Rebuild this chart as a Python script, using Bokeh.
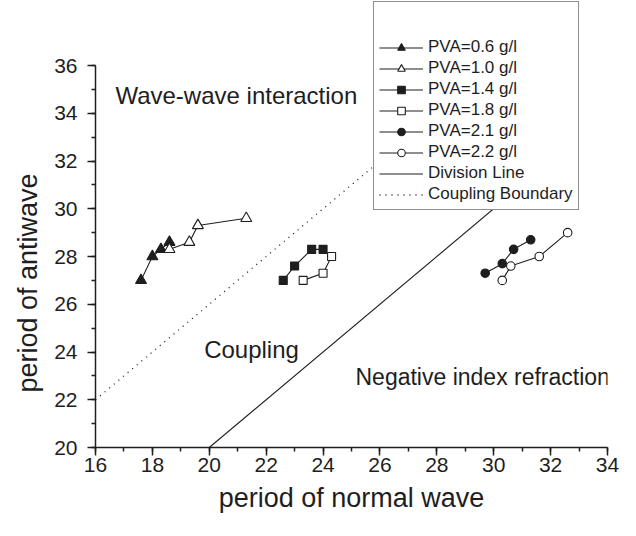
from bokeh.plotting import figure
from bokeh.models import Legend, LegendItem, Label, Range1d, SingleIntervalTicker, Title
from bokeh.embed import file_html
from bokeh.resources import INLINE

# ---- data ----
series_labels = ["PVA=0.6 g/l", "PVA=1.0 g/l", "PVA=1.4 g/l",
                 "PVA=1.8 g/l", "PVA=2.1 g/l", "PVA=2.2 g/l"]

normal_06 = [17.6, 18.0, 18.3, 18.6]
anti_06 = [27.0, 28.0, 28.3, 28.6]

normal_10 = [18.6, 19.3, 19.6, 21.3]
anti_10 = [28.3, 28.6, 29.3, 29.6]

normal_14 = [22.6, 23.0, 23.6, 24.0]
anti_14 = [27.0, 27.6, 28.3, 28.3]

normal_18 = [23.3, 24.0, 24.3]
anti_18 = [27.0, 27.3, 28.0]

normal_21 = [29.7, 30.3, 30.7, 31.3]
anti_21 = [27.3, 27.7, 28.3, 28.7]

normal_22 = [30.3, 30.6, 31.6, 32.6]
anti_22 = [27.0, 27.6, 28.0, 29.0]

division_x = [20, 32]
division_y = [20, 32]
boundary_x = [16, 26]
boundary_y = [22, 32]

x_min, x_max = 16, 34
y_min, y_max = 20, 36

INK = "#1e1e1e"
FONT = "Liberation Sans"

FRAME_H = 447          # frame spans the full height above the x axis
PX_PER_Y = 382 / 16.0  # 36 sits 65 px below the top

p = figure(width=620, height=520, output_backend="svg", toolbar_location=None,
           x_range=Range1d(x_min, x_max),
           y_range=Range1d(y_min, y_min + FRAME_H / PX_PER_Y),
           min_border_left=95, min_border_right=13,
           min_border_top=0, min_border_bottom=73)
p.outline_line_color = None
p.xgrid.visible = False
p.ygrid.visible = False

p.xaxis.ticker = SingleIntervalTicker(interval=2, num_minor_ticks=2)
p.yaxis.ticker = SingleIntervalTicker(interval=2, num_minor_ticks=2)
p.yaxis.bounds = (y_min, y_max)
p.xaxis.axis_label = "period of normal wave"
for ax in (p.xaxis[0], p.yaxis[0]):
    ax.axis_line_width = 1.5
    ax.axis_line_color = INK
    ax.major_tick_line_color = INK
    ax.minor_tick_line_color = INK
    ax.major_tick_line_width = 1.5
    ax.minor_tick_line_width = 1.5
    ax.major_tick_out = 8
    ax.major_tick_in = 0
    ax.minor_tick_out = 4
    ax.minor_tick_in = 0
    ax.major_label_text_font = FONT
    ax.major_label_text_font_size = "21px"
    ax.major_label_text_color = INK
    ax.axis_label_text_font = FONT
    ax.axis_label_text_font_size = "27px"
    ax.axis_label_text_font_style = "normal"
    ax.axis_label_text_color = INK
p.xaxis.major_label_standoff = 2
p.yaxis.major_label_standoff = 10
p.xaxis.axis_label_standoff = 8

p.add_layout(Title(text="period of antiwave", align="left", offset=55,
                   text_font=FONT, text_font_size="27px", text_font_style="normal",
                   text_color=INK, standoff=18), "left")

div_r = p.line(division_x, division_y, line_color=INK, line_width=1.1)
bnd_r = p.line(boundary_x, boundary_y, line_color=INK, line_width=1.3, line_dash="1 5")

series = [
    (normal_06, anti_06, "triangle", True, 11),
    (normal_10, anti_10, "triangle", False, 11),
    (normal_14, anti_14, "square", True, 8),
    (normal_18, anti_18, "square", False, 8),
    (normal_21, anti_21, "circle", True, 8.5),
    (normal_22, anti_22, "circle", False, 8.5),
]

items = []
for (xs, ys, marker, filled, size), label in zip(series, series_labels):
    lr = p.line(xs, ys, line_color=INK, line_width=1.1)
    sr = p.scatter(xs, ys, marker=marker, size=size, line_color=INK, line_width=1.1,
                   fill_color=INK if filled else "white")
    items.append(LegendItem(label=label, renderers=[lr, sr]))
items.append(LegendItem(label="Division Line", renderers=[div_r]))
items.append(LegendItem(label="Coupling Boundary", renderers=[bnd_r]))

legend = Legend(items=items, location=(278, 237), title=" ",
                title_text_font_size="17px", title_standoff=10,
                border_line_color=INK, border_line_width=1.2,
                background_fill_color="white", background_fill_alpha=1.0,
                label_text_font=FONT, label_text_font_size="17px",
                label_text_color=INK,
                glyph_width=44, glyph_height=19, label_height=19,
                spacing=1, padding=5, margin=0, label_standoff=5)
p.add_layout(legend)

for tx, ty, txt, fs in [(16.7, 34.75, "Wave-wave interaction", "24px"),
                        (19.82, 24.1, "Coupling", "24px"),
                        (25.14, 22.96, "Negative index refraction", "23px")]:
    p.add_layout(Label(x=tx, y=ty, text=txt, text_font=FONT, text_font_size=fs,
                       text_color=INK, text_align="left", text_baseline="alphabetic"))

open("out.html", "w").write(file_html(p, INLINE))
